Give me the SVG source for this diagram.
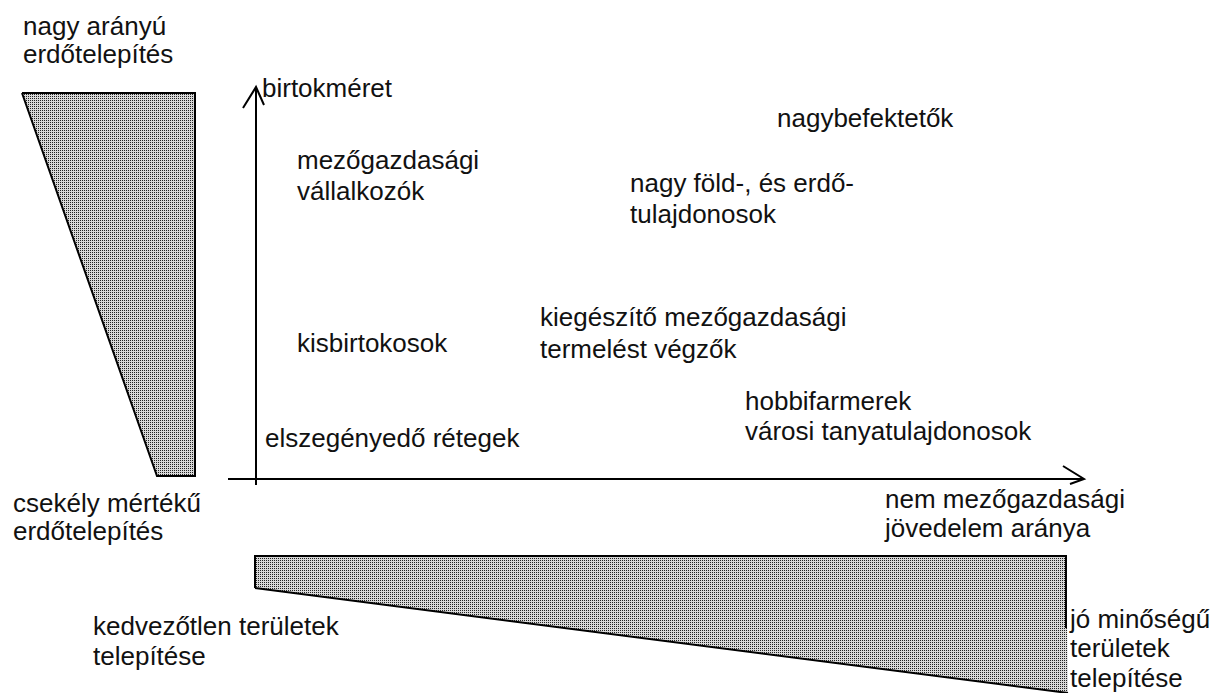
<svg xmlns="http://www.w3.org/2000/svg" width="1214" height="693" viewBox="0 0 1214 693">
<style>
text{font-family:"Liberation Sans",Arial,sans-serif;font-size:26px;fill:#111}
.ln{stroke:#000;stroke-width:2;fill:none}
.sh{fill:url(#dots);stroke:none}
</style>
<defs>
<pattern id="dots" width="2" height="2" patternUnits="userSpaceOnUse">
<rect width="2" height="2" fill="#d8d8d8"/>
<rect width="1" height="1" fill="#222"/>
</pattern>
</defs>
<rect width="1214" height="693" fill="#fff"/>
<g id="left-wedge">
<polygon class="sh" points="22,93 195,93 195,476 157,476"/>
<polyline class="ln" points="22,93 195,93 195,476 157,476 22,93"/>
</g>
<g id="bottom-wedge">
<polygon class="sh" points="255,556 1066,556 1068,693 255,588"/>
<path class="ln" d="M255,588 V556 H1066 V628 M255,588 L1068,693"/>
</g>
<g id="connectors">
<path class="ln" d="M256,485 V87 M243,108 L256,87 L264,105"/>
<path class="ln" d="M228,479 H1084 M1063,466 L1084,479 L1070,484"/>
</g>
<g id="labels">
<text x="23" y="35">nagy arányú</text>
<text x="23" y="63">erdőtelepítés</text>
<text x="262" y="97">birtokméret</text>
<text x="777" y="127">nagybefektetők</text>
<text x="297" y="169">mezőgazdasági</text>
<text x="297" y="200">vállalkozók</text>
<text x="630" y="192">nagy föld-, és erdő-</text>
<text x="630" y="223">tulajdonosok</text>
<text x="297" y="352">kisbirtokosok</text>
<text x="540" y="326">kiegészítő mezőgazdasági</text>
<text x="540" y="358">termelést végzők</text>
<text x="745" y="410">hobbifarmerek</text>
<text x="745" y="440">városi tanyatulajdonosok</text>
<text x="265" y="447">elszegényedő rétegek</text>
<text x="13" y="512">csekély mértékű</text>
<text x="13" y="540">erdőtelepítés</text>
<text x="885" y="508">nem mezőgazdasági</text>
<text x="885" y="537">jövedelem aránya</text>
<text x="93" y="635">kedvezőtlen területek</text>
<text x="93" y="665">telepítése</text>
<rect x="1069" y="606" width="145" height="87" fill="#fff"/>
<text x="1070" y="628">jó minőségű</text>
<text x="1070" y="657">területek</text>
<text x="1070" y="687">telepítése</text>
</g>
</svg>
